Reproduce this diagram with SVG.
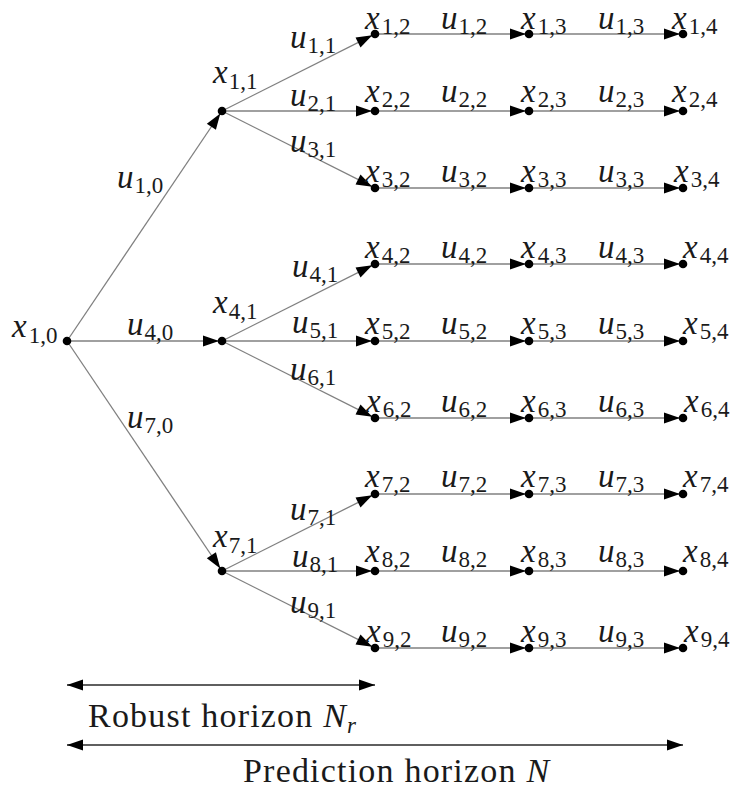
<svg xmlns="http://www.w3.org/2000/svg" width="734" height="789" viewBox="0 0 734 789">
<g id="connectors">
<g stroke="#808080" stroke-width="1.3" fill="none">
<line x1="67" y1="341" x2="220.3" y2="113.5"/>
<line x1="67" y1="341" x2="219" y2="341"/>
<line x1="67" y1="341" x2="220.3" y2="568.5"/>
<line x1="222" y1="111" x2="372.3" y2="35.3"/>
<line x1="222" y1="111" x2="372" y2="111"/>
<line x1="222" y1="111" x2="372.3" y2="186.7"/>
<line x1="222" y1="341" x2="372.3" y2="265.3"/>
<line x1="222" y1="341" x2="372" y2="341"/>
<line x1="222" y1="341" x2="372.3" y2="416.7"/>
<line x1="222" y1="571" x2="372.3" y2="495.3"/>
<line x1="222" y1="571" x2="372" y2="571"/>
<line x1="222" y1="571" x2="372.3" y2="646.7"/>
<line x1="375" y1="34" x2="526" y2="34"/><line x1="529" y1="34" x2="680" y2="34"/>
<line x1="375" y1="111" x2="526" y2="111"/><line x1="529" y1="111" x2="680" y2="111"/>
<line x1="375" y1="188" x2="526" y2="188"/><line x1="529" y1="188" x2="680" y2="188"/>
<line x1="375" y1="264" x2="526" y2="264"/><line x1="529" y1="264" x2="680" y2="264"/>
<line x1="375" y1="341" x2="526" y2="341"/><line x1="529" y1="341" x2="680" y2="341"/>
<line x1="375" y1="418" x2="526" y2="418"/><line x1="529" y1="418" x2="680" y2="418"/>
<line x1="375" y1="494" x2="526" y2="494"/><line x1="529" y1="494" x2="680" y2="494"/>
<line x1="375" y1="571" x2="526" y2="571"/><line x1="529" y1="571" x2="680" y2="571"/>
<line x1="375" y1="648" x2="526" y2="648"/><line x1="529" y1="648" x2="680" y2="648"/>
</g>
<g fill="#000">
<polygon points="215.92,129.83 220.3,113.5 206.8,123.69"/>
<polygon points="203,335.5 219,341 203,346.5"/>
<polygon points="206.8,558.31 220.3,568.5 215.92,552.17"/>
<polygon points="360.48,47.39 372.3,35.3 355.54,37.57"/>
<polygon points="356,105.5 372,111 356,116.5"/>
<polygon points="355.54,184.43 372.3,186.7 360.48,174.61"/>
<polygon points="360.48,277.39 372.3,265.3 355.54,267.57"/>
<polygon points="356,335.5 372,341 356,346.5"/>
<polygon points="355.54,414.43 372.3,416.7 360.48,404.61"/>
<polygon points="360.48,507.39 372.3,495.3 355.54,497.57"/>
<polygon points="356,565.5 372,571 356,576.5"/>
<polygon points="355.54,644.43 372.3,646.7 360.48,634.61"/>
<polygon points="510,28.5 526,34 510,39.5"/><polygon points="664,28.5 680,34 664,39.5"/>
<polygon points="510,105.5 526,111 510,116.5"/><polygon points="664,105.5 680,111 664,116.5"/>
<polygon points="510,182.5 526,188 510,193.5"/><polygon points="664,182.5 680,188 664,193.5"/>
<polygon points="510,258.5 526,264 510,269.5"/><polygon points="664,258.5 680,264 664,269.5"/>
<polygon points="510,335.5 526,341 510,346.5"/><polygon points="664,335.5 680,341 664,346.5"/>
<polygon points="510,412.5 526,418 510,423.5"/><polygon points="664,412.5 680,418 664,423.5"/>
<polygon points="510,488.5 526,494 510,499.5"/><polygon points="664,488.5 680,494 664,499.5"/>
<polygon points="510,565.5 526,571 510,576.5"/><polygon points="664,565.5 680,571 664,576.5"/>
<polygon points="510,642.5 526,648 510,653.5"/><polygon points="664,642.5 680,648 664,653.5"/>
</g>
</g>

<g id="edge-labels" fill="#1a1a1a">
<text font-family="Liberation Serif" x="117" y="188"><tspan font-style="italic" font-size="33">u</tspan><tspan font-size="23" dx="1" dy="5">1,0</tspan></text>
<text font-family="Liberation Serif" x="127" y="335"><tspan font-style="italic" font-size="33">u</tspan><tspan font-size="23" dx="1" dy="5">4,0</tspan></text>
<text font-family="Liberation Serif" x="127" y="428"><tspan font-style="italic" font-size="33">u</tspan><tspan font-size="23" dx="1" dy="5">7,0</tspan></text>
<text font-family="Liberation Serif" x="290" y="48"><tspan font-style="italic" font-size="33">u</tspan><tspan font-size="23" dx="1" dy="5">1,1</tspan></text>
<text font-family="Liberation Serif" x="290" y="106"><tspan font-style="italic" font-size="33">u</tspan><tspan font-size="23" dx="1" dy="5">2,1</tspan></text>
<text font-family="Liberation Serif" x="290" y="152"><tspan font-style="italic" font-size="33">u</tspan><tspan font-size="23" dx="1" dy="5">3,1</tspan></text>
<text font-family="Liberation Serif" x="292" y="277"><tspan font-style="italic" font-size="33">u</tspan><tspan font-size="23" dx="1" dy="5">4,1</tspan></text>
<text font-family="Liberation Serif" x="292" y="333"><tspan font-style="italic" font-size="33">u</tspan><tspan font-size="23" dx="1" dy="5">5,1</tspan></text>
<text font-family="Liberation Serif" x="290" y="380"><tspan font-style="italic" font-size="33">u</tspan><tspan font-size="23" dx="1" dy="5">6,1</tspan></text>
<text font-family="Liberation Serif" x="290" y="520"><tspan font-style="italic" font-size="33">u</tspan><tspan font-size="23" dx="1" dy="5">7,1</tspan></text>
<text font-family="Liberation Serif" x="292" y="567"><tspan font-style="italic" font-size="33">u</tspan><tspan font-size="23" dx="1" dy="5">8,1</tspan></text>
<text font-family="Liberation Serif" x="290" y="613"><tspan font-style="italic" font-size="33">u</tspan><tspan font-size="23" dx="1" dy="5">9,1</tspan></text>
<text font-family="Liberation Serif" x="441" y="29"><tspan font-style="italic" font-size="33">u</tspan><tspan font-size="23" dx="1" dy="5">1,2</tspan></text>
<text font-family="Liberation Serif" x="598" y="29"><tspan font-style="italic" font-size="33">u</tspan><tspan font-size="23" dx="1" dy="5">1,3</tspan></text>
<text font-family="Liberation Serif" x="441" y="102"><tspan font-style="italic" font-size="33">u</tspan><tspan font-size="23" dx="1" dy="5">2,2</tspan></text>
<text font-family="Liberation Serif" x="598" y="102"><tspan font-style="italic" font-size="33">u</tspan><tspan font-size="23" dx="1" dy="5">2,3</tspan></text>
<text font-family="Liberation Serif" x="441" y="182"><tspan font-style="italic" font-size="33">u</tspan><tspan font-size="23" dx="1" dy="5">3,2</tspan></text>
<text font-family="Liberation Serif" x="598" y="182"><tspan font-style="italic" font-size="33">u</tspan><tspan font-size="23" dx="1" dy="5">3,3</tspan></text>
<text font-family="Liberation Serif" x="441" y="258"><tspan font-style="italic" font-size="33">u</tspan><tspan font-size="23" dx="1" dy="5">4,2</tspan></text>
<text font-family="Liberation Serif" x="598" y="258"><tspan font-style="italic" font-size="33">u</tspan><tspan font-size="23" dx="1" dy="5">4,3</tspan></text>
<text font-family="Liberation Serif" x="441" y="334"><tspan font-style="italic" font-size="33">u</tspan><tspan font-size="23" dx="1" dy="5">5,2</tspan></text>
<text font-family="Liberation Serif" x="598" y="334"><tspan font-style="italic" font-size="33">u</tspan><tspan font-size="23" dx="1" dy="5">5,3</tspan></text>
<text font-family="Liberation Serif" x="441" y="412"><tspan font-style="italic" font-size="33">u</tspan><tspan font-size="23" dx="1" dy="5">6,2</tspan></text>
<text font-family="Liberation Serif" x="598" y="412"><tspan font-style="italic" font-size="33">u</tspan><tspan font-size="23" dx="1" dy="5">6,3</tspan></text>
<text font-family="Liberation Serif" x="441" y="487"><tspan font-style="italic" font-size="33">u</tspan><tspan font-size="23" dx="1" dy="5">7,2</tspan></text>
<text font-family="Liberation Serif" x="598" y="487"><tspan font-style="italic" font-size="33">u</tspan><tspan font-size="23" dx="1" dy="5">7,3</tspan></text>
<text font-family="Liberation Serif" x="441" y="562"><tspan font-style="italic" font-size="33">u</tspan><tspan font-size="23" dx="1" dy="5">8,2</tspan></text>
<text font-family="Liberation Serif" x="598" y="562"><tspan font-style="italic" font-size="33">u</tspan><tspan font-size="23" dx="1" dy="5">8,3</tspan></text>
<text font-family="Liberation Serif" x="441" y="642"><tspan font-style="italic" font-size="33">u</tspan><tspan font-size="23" dx="1" dy="5">9,2</tspan></text>
<text font-family="Liberation Serif" x="598" y="642"><tspan font-style="italic" font-size="33">u</tspan><tspan font-size="23" dx="1" dy="5">9,3</tspan></text>
</g>

<g id="nodes" fill="#1a1a1a">
<g id="x10"><circle fill="#000" cx="67" cy="341" r="4.3"/><text font-family="Liberation Serif" x="12" y="337"><tspan font-style="italic" font-size="33">x</tspan><tspan font-size="23" dx="2" dy="6">1,0</tspan></text></g>
<g id="x11"><circle fill="#000" cx="222" cy="111" r="4.3"/><text font-family="Liberation Serif" x="213" y="83"><tspan font-style="italic" font-size="33">x</tspan><tspan font-size="23" dx="1" dy="6">1,1</tspan></text></g>
<g id="x41"><circle fill="#000" cx="222" cy="341" r="4.3"/><text font-family="Liberation Serif" x="213" y="313"><tspan font-style="italic" font-size="33">x</tspan><tspan font-size="23" dx="1" dy="6">4,1</tspan></text></g>
<g id="x71"><circle fill="#000" cx="222" cy="571" r="4.3"/><text font-family="Liberation Serif" x="213" y="547"><tspan font-style="italic" font-size="33">x</tspan><tspan font-size="23" dx="1" dy="6">7,1</tspan></text></g>
<g id="x12"><circle fill="#000" cx="375" cy="34" r="4.3"/><text font-family="Liberation Serif" x="365" y="29"><tspan font-style="italic" font-size="33">x</tspan><tspan font-size="23" dx="2" dy="5">1,2</tspan></text></g>
<g id="x13"><circle fill="#000" cx="529" cy="34" r="4.3"/><text font-family="Liberation Serif" x="521" y="29"><tspan font-style="italic" font-size="33">x</tspan><tspan font-size="23" dx="2" dy="5">1,3</tspan></text></g>
<g id="x14"><circle fill="#000" cx="683" cy="34" r="4.3"/><text font-family="Liberation Serif" x="672" y="29"><tspan font-style="italic" font-size="33">x</tspan><tspan font-size="23" dx="2" dy="5">1,4</tspan></text></g>
<g id="x22"><circle fill="#000" cx="375" cy="111" r="4.3"/><text font-family="Liberation Serif" x="365" y="102"><tspan font-style="italic" font-size="33">x</tspan><tspan font-size="23" dx="2" dy="5">2,2</tspan></text></g>
<g id="x23"><circle fill="#000" cx="529" cy="111" r="4.3"/><text font-family="Liberation Serif" x="521" y="102"><tspan font-style="italic" font-size="33">x</tspan><tspan font-size="23" dx="2" dy="5">2,3</tspan></text></g>
<g id="x24"><circle fill="#000" cx="683" cy="111" r="4.3"/><text font-family="Liberation Serif" x="672" y="102"><tspan font-style="italic" font-size="33">x</tspan><tspan font-size="23" dx="2" dy="5">2,4</tspan></text></g>
<g id="x32"><circle fill="#000" cx="375" cy="188" r="4.3"/><text font-family="Liberation Serif" x="365" y="182"><tspan font-style="italic" font-size="33">x</tspan><tspan font-size="23" dx="2" dy="5">3,2</tspan></text></g>
<g id="x33"><circle fill="#000" cx="529" cy="188" r="4.3"/><text font-family="Liberation Serif" x="521" y="182"><tspan font-style="italic" font-size="33">x</tspan><tspan font-size="23" dx="2" dy="5">3,3</tspan></text></g>
<g id="x34"><circle fill="#000" cx="683" cy="188" r="4.3"/><text font-family="Liberation Serif" x="674" y="182"><tspan font-style="italic" font-size="33">x</tspan><tspan font-size="23" dx="2" dy="5">3,4</tspan></text></g>
<g id="x42"><circle fill="#000" cx="375" cy="264" r="4.3"/><text font-family="Liberation Serif" x="365" y="258"><tspan font-style="italic" font-size="33">x</tspan><tspan font-size="23" dx="2" dy="5">4,2</tspan></text></g>
<g id="x43"><circle fill="#000" cx="529" cy="264" r="4.3"/><text font-family="Liberation Serif" x="521" y="258"><tspan font-style="italic" font-size="33">x</tspan><tspan font-size="23" dx="2" dy="5">4,3</tspan></text></g>
<g id="x44"><circle fill="#000" cx="683" cy="264" r="4.3"/><text font-family="Liberation Serif" x="683" y="258"><tspan font-style="italic" font-size="33">x</tspan><tspan font-size="23" dx="2" dy="5">4,4</tspan></text></g>
<g id="x52"><circle fill="#000" cx="375" cy="341" r="4.3"/><text font-family="Liberation Serif" x="365" y="334"><tspan font-style="italic" font-size="33">x</tspan><tspan font-size="23" dx="2" dy="5">5,2</tspan></text></g>
<g id="x53"><circle fill="#000" cx="529" cy="341" r="4.3"/><text font-family="Liberation Serif" x="521" y="334"><tspan font-style="italic" font-size="33">x</tspan><tspan font-size="23" dx="2" dy="5">5,3</tspan></text></g>
<g id="x54"><circle fill="#000" cx="683" cy="341" r="4.3"/><text font-family="Liberation Serif" x="683" y="334"><tspan font-style="italic" font-size="33">x</tspan><tspan font-size="23" dx="2" dy="5">5,4</tspan></text></g>
<g id="x62"><circle fill="#000" cx="375" cy="418" r="4.3"/><text font-family="Liberation Serif" x="366" y="412"><tspan font-style="italic" font-size="33">x</tspan><tspan font-size="23" dx="2" dy="5">6,2</tspan></text></g>
<g id="x63"><circle fill="#000" cx="529" cy="418" r="4.3"/><text font-family="Liberation Serif" x="521" y="412"><tspan font-style="italic" font-size="33">x</tspan><tspan font-size="23" dx="2" dy="5">6,3</tspan></text></g>
<g id="x64"><circle fill="#000" cx="683" cy="418" r="4.3"/><text font-family="Liberation Serif" x="684" y="412"><tspan font-style="italic" font-size="33">x</tspan><tspan font-size="23" dx="2" dy="5">6,4</tspan></text></g>
<g id="x72"><circle fill="#000" cx="375" cy="494" r="4.3"/><text font-family="Liberation Serif" x="365" y="487"><tspan font-style="italic" font-size="33">x</tspan><tspan font-size="23" dx="2" dy="5">7,2</tspan></text></g>
<g id="x73"><circle fill="#000" cx="529" cy="494" r="4.3"/><text font-family="Liberation Serif" x="521" y="487"><tspan font-style="italic" font-size="33">x</tspan><tspan font-size="23" dx="2" dy="5">7,3</tspan></text></g>
<g id="x74"><circle fill="#000" cx="683" cy="494" r="4.3"/><text font-family="Liberation Serif" x="683" y="487"><tspan font-style="italic" font-size="33">x</tspan><tspan font-size="23" dx="2" dy="5">7,4</tspan></text></g>
<g id="x82"><circle fill="#000" cx="375" cy="571" r="4.3"/><text font-family="Liberation Serif" x="365" y="562"><tspan font-style="italic" font-size="33">x</tspan><tspan font-size="23" dx="2" dy="5">8,2</tspan></text></g>
<g id="x83"><circle fill="#000" cx="529" cy="571" r="4.3"/><text font-family="Liberation Serif" x="521" y="562"><tspan font-style="italic" font-size="33">x</tspan><tspan font-size="23" dx="2" dy="5">8,3</tspan></text></g>
<g id="x84"><circle fill="#000" cx="683" cy="571" r="4.3"/><text font-family="Liberation Serif" x="683" y="562"><tspan font-style="italic" font-size="33">x</tspan><tspan font-size="23" dx="2" dy="5">8,4</tspan></text></g>
<g id="x92"><circle fill="#000" cx="375" cy="648" r="4.3"/><text font-family="Liberation Serif" x="366" y="642"><tspan font-style="italic" font-size="33">x</tspan><tspan font-size="23" dx="2" dy="5">9,2</tspan></text></g>
<g id="x93"><circle fill="#000" cx="529" cy="648" r="4.3"/><text font-family="Liberation Serif" x="521" y="642"><tspan font-style="italic" font-size="33">x</tspan><tspan font-size="23" dx="2" dy="5">9,3</tspan></text></g>
<g id="x94"><circle fill="#000" cx="683" cy="648" r="4.3"/><text font-family="Liberation Serif" x="684" y="642"><tspan font-style="italic" font-size="33">x</tspan><tspan font-size="23" dx="2" dy="5">9,4</tspan></text></g>
</g>

<g id="horizons" fill="#1a1a1a">
<g stroke="#2a2a2a" stroke-width="1.5" fill="none">
<line x1="67" y1="685" x2="375" y2="685"/>
<line x1="67" y1="745" x2="683" y2="745"/>
</g>
<g fill="#000">
<polygon points="83,679.5 67,685 83,690.5"/><polygon points="359,679.5 375,685 359,690.5"/>
<polygon points="83,739.5 67,745 83,750.5"/><polygon points="667,739.5 683,745 667,750.5"/>
</g>
<text font-family="Liberation Serif" font-size="34" letter-spacing="1.2" x="88" y="727">Robust horizon <tspan font-style="italic">N</tspan><tspan font-style="italic" font-size="23" dy="6">r</tspan></text>
<text font-family="Liberation Serif" font-size="34" letter-spacing="1.2" x="243" y="782">Prediction horizon <tspan font-style="italic">N</tspan></text>
</g>
</svg>
